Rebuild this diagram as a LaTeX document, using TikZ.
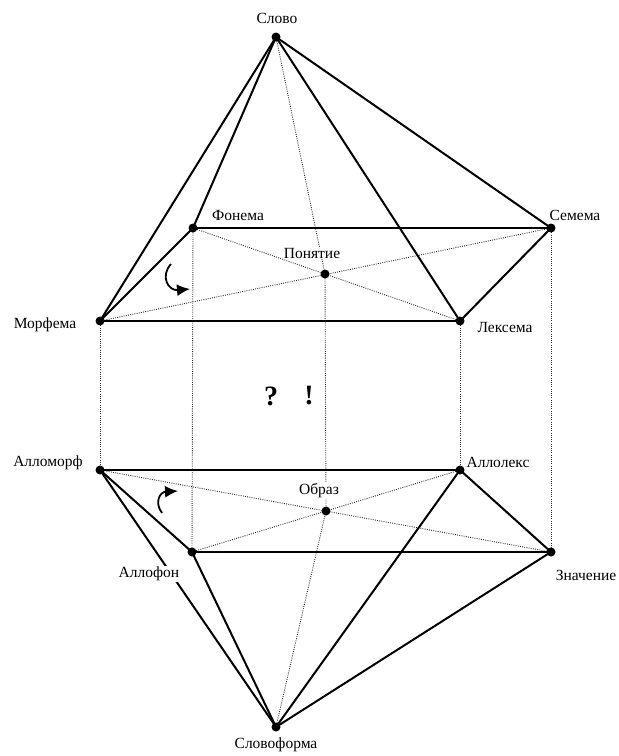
\documentclass[tikz,border=0pt]{standalone}
\usepackage{fontspec}
\setmainfont{Liberation Serif}
\usetikzlibrary{arrows.meta}
\tikzset{
  pt/.style={circle,fill=black,inner sep=0pt,minimum size=9pt},
  lab/.style={fill=white,inner sep=1pt,font=\fontsize{15.5}{17}\selectfont},
  solidln/.style={line width=2pt,line cap=round},
  dotln/.style={line width=0.9pt,black!85,dash pattern=on 0.9pt off 1.3pt},
  carrow/.style={line width=1.8pt,-{Latex[length=13pt,width=12pt]}},
  big/.style={font=\fontsize{28}{30}\selectfont\bfseries}
}
\begin{document}
\begin{tikzpicture}[x=1pt,y=-1pt]
\useasboundingbox (0,0) rectangle (619,756);
% points
\coordinate (S) at (276,37);
\coordinate (F) at (193,228);
\coordinate (Se) at (551,228);
\coordinate (M) at (100,321);
\coordinate (L) at (460,321);
\coordinate (P) at (325,274);
\coordinate (Am) at (100,470);
\coordinate (Al) at (460,470);
\coordinate (Af) at (192,552);
\coordinate (Z) at (551,552);
\coordinate (O) at (326,511);
\coordinate (W) at (276,727);
% dotted lines
\draw[dotln] (S) -- (P);
\draw[dotln] (M) -- (Se);
\draw[dotln] (F) -- (L);
\draw[dotln] (W) -- (O);
\draw[dotln] (Am) -- (Z);
\draw[dotln] (Af) -- (Al);
\draw[dotln] (M) -- (Am);
\draw[dotln] (F) -- (Af);
\draw[dotln] (P) -- (O);
\draw[dotln] (L) -- (Al);
\draw[dotln] (Se) -- (Z);
% solid lines
\draw[solidln] (S) -- (M);
\draw[solidln] (S) -- (F);
\draw[solidln] (S) -- (L);
\draw[solidln] (S) -- (Se);
\draw[solidln] (M) -- (L);
\draw[solidln] (F) -- (Se);
\draw[solidln] (M) -- (F);
\draw[solidln] (L) -- (Se);
\draw[solidln] (W) -- (Am);
\draw[solidln] (W) -- (Af);
\draw[solidln] (W) -- (Al);
\draw[solidln] (W) -- (Z);
\draw[solidln] (Am) -- (Al);
\draw[solidln] (Af) -- (Z);
\draw[solidln] (Am) -- (Af);
\draw[solidln] (Al) -- (Z);
% dots
\foreach \p in {S,F,Se,M,L,P,Am,Al,Af,Z,O,W} \node[pt] (d\p) at (\p) {};
% labels
\node[lab] (lS) at (277,18) {Слово};
\node[lab] (lF) at (238,215) {Фонема};
\node[lab] (lSe) at (575,215) {Семема};
\node[lab] (lP) at (312,253) {Понятие};
\node[lab] (lM) at (45,325) {Морфема};
\node[lab] (lL) at (505,327) {Лексема};
\node[lab] (lAm) at (48,463) {Алломорф};
\node[lab] (lAl) at (498,462) {Аллолекс};
\node[lab] (lO) at (319,491) {Образ};
\node[lab] (lAf) at (149,574) {Аллофон};
\node[lab] (lZ) at (586,575) {Значение};
\node[lab] (lW) at (276,745) {Словоформа};
\node[big] (q) at (271,396) {?};
\node[big] (ex) at (309,396) {!};
% curved arrows
\draw[carrow] (171,264) .. controls (160,276) and (168,291) .. (190,289);
\draw[carrow] (162,513) .. controls (154,502) and (160,492) .. (178,491);
\end{tikzpicture}
\end{document}
